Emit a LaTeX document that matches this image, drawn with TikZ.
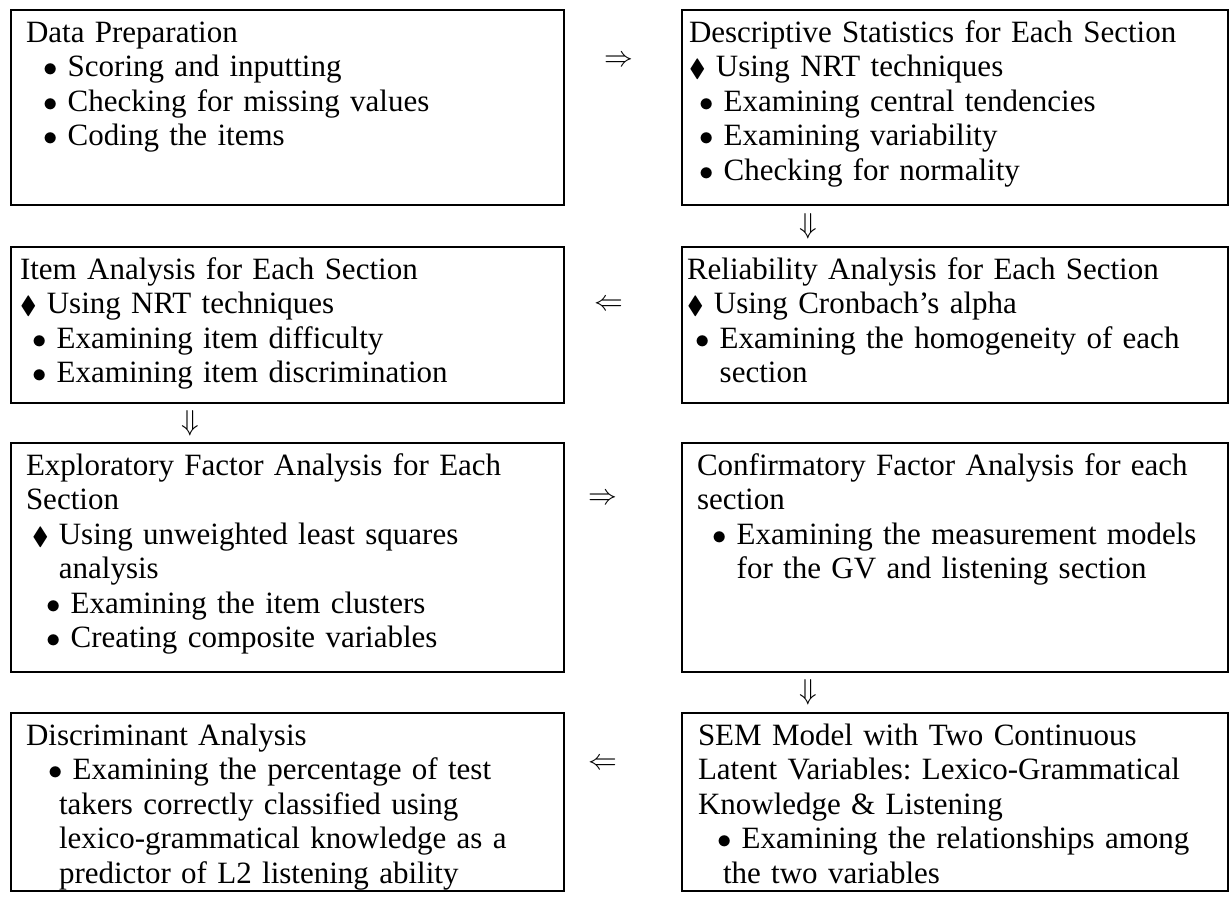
\documentclass[tikz,border=0pt]{standalone}
\usepackage{fontspec}
\setmainfont{Liberation Serif}
\usepackage{amssymb}
\usetikzlibrary{positioning, calc}

\newcommand{\stagebul}{$\bullet$}
\newcommand{\stagedia}{\scalebox{0.8}{$\blacklozenge$}}

\begin{document}
\frenchspacing
\begin{tikzpicture}[
    stage/.style={rectangle, draw=black, line width=1pt, outer sep=0pt,
                  anchor=north west, align=left, inner xsep=0pt, inner ysep=4.5pt,
                  text height=11.5pt, font=\fontsize{15.5}{17.25}\selectfont},
    leftstage/.style={stage, minimum width=276.5pt},
    rightstage/.style={stage, minimum width=273pt},
    glyph/.style={inner sep=0pt, font=\fontsize{14}{14}\selectfont},
  ]
    \useasboundingbox (0,0) rectangle (615pt,-448pt);

    % ── Row 1 ────────────────────────────────────
    \node[leftstage, text width=261.5pt, text depth=77pt] (prep) at (5.5pt,-5pt)
      {Data Preparation\\
       \hspace*{8.5pt}\stagebul\ Scoring and inputting\\
       \hspace*{8.5pt}\stagebul\ Checking for missing values\\
       \hspace*{8.5pt}\stagebul\ Coding the items};
    \node[rightstage, text width=266pt, text depth=77pt,
          right=59pt of prep.north east, anchor=north west] (desc)
      {Descriptive Statistics for Each Section\\
       \stagedia\ Using NRT techniques\\
       \hspace*{5pt}\stagebul\ Examining central tendencies\\
       \hspace*{5pt}\stagebul\ Examining variability\\
       \hspace*{5pt}\stagebul\ Checking for normality};

    % ── Row 2 ────────────────────────────────────
    \node[leftstage, text width=267.5pt, text depth=57.5pt,
          below=21pt of prep.south west, anchor=north west] (item)
      {Item Analysis for Each Section\\
       \stagedia\ Using NRT techniques\\
       \hspace*{6pt}\stagebul\ Examining item difficulty\\
       \hspace*{6pt}\stagebul\ Examining item discrimination};
    \node[rightstage, text width=268pt, text depth=57.5pt,
          below=21pt of desc.south west, anchor=north west] (rel)
      {Reliability Analysis for Each Section\\
       \stagedia\ Using Cronbach's alpha\\
       \hspace*{4pt}\stagebul\ Examining the homogeneity of each\\
       \hspace*{4pt}\phantom{\stagebul\ }section};

    % ── Row 3 ────────────────────────────────────
    \node[leftstage, text width=261.5pt, text depth=94pt,
          below=20pt of item.south west, anchor=north west] (efa)
      {Exploratory Factor Analysis for Each\\
       Section\\
       \hspace*{3pt}\stagedia\ Using unweighted least squares\\
       \hspace*{3pt}\phantom{\stagedia\ }analysis\\
       \hspace*{10pt}\stagebul\ Examining the item clusters\\
       \hspace*{10pt}\stagebul\ Creating composite variables};
    \node[rightstage, text width=258pt, text depth=94pt,
          below=20pt of rel.south west, anchor=north west] (cfa)
      {Confirmatory Factor Analysis for each\\
       section\\
       \hspace*{7.5pt}\stagebul\ Examining the measurement models\\
       \hspace*{7.5pt}\phantom{\stagebul\ }for the GV and listening section};

    % ── Row 4 ────────────────────────────────────
    \node[leftstage, text width=261.5pt, text depth=68.5pt,
          below=20.5pt of efa.south west, anchor=north west] (disc)
      {Discriminant Analysis\\
       \hspace*{11pt}\stagebul\ Examining the percentage of test\\
       \hspace*{16.5pt}takers correctly classified using\\
       \hspace*{16.5pt}lexico-grammatical knowledge as a\\
       \hspace*{16.5pt}predictor of L2 listening ability};
    \node[rightstage, text width=257pt, text depth=68.5pt,
          below=20.5pt of cfa.south west, anchor=north west] (sem)
      {SEM Model with Two Continuous\\
       Latent Variables: Lexico-Grammatical\\
       Knowledge \& Listening\\
       \hspace*{9.5pt}\stagebul\ Examining the relationships among\\
       \hspace*{12.5pt}the two variables};

    % ── Flow glyphs ──────────────────────────────
    \node[glyph] (go1) at ($(prep.north east)!0.5!(desc.north west)+(-2pt,-25.5pt)$) {$\Rightarrow$};
    \node[glyph] (down1) at ($(desc.south west)!0.5!(rel.north west)+(63pt,0)$) {$\Downarrow$};
    \node[glyph] (back2) at ($(item.north east)!0.5!(rel.north west)+(-7pt,-29pt)$) {$\Leftarrow$};
    \node[glyph] (down2) at ($(item.south west)!0.5!(efa.north west)+(89.5pt,0)$) {$\Downarrow$};
    \node[glyph] (go3) at ($(efa.north east)!0.5!(cfa.north west)+(-10pt,-28pt)$) {$\Rightarrow$};
    \node[glyph] (down3) at ($(cfa.south west)!0.5!(sem.north west)+(63pt,0)$) {$\Downarrow$};
    \node[glyph] (back4) at ($(disc.north east)!0.5!(sem.north west)+(-10pt,-25.5pt)$) {$\Leftarrow$};
\end{tikzpicture}
\end{document}
